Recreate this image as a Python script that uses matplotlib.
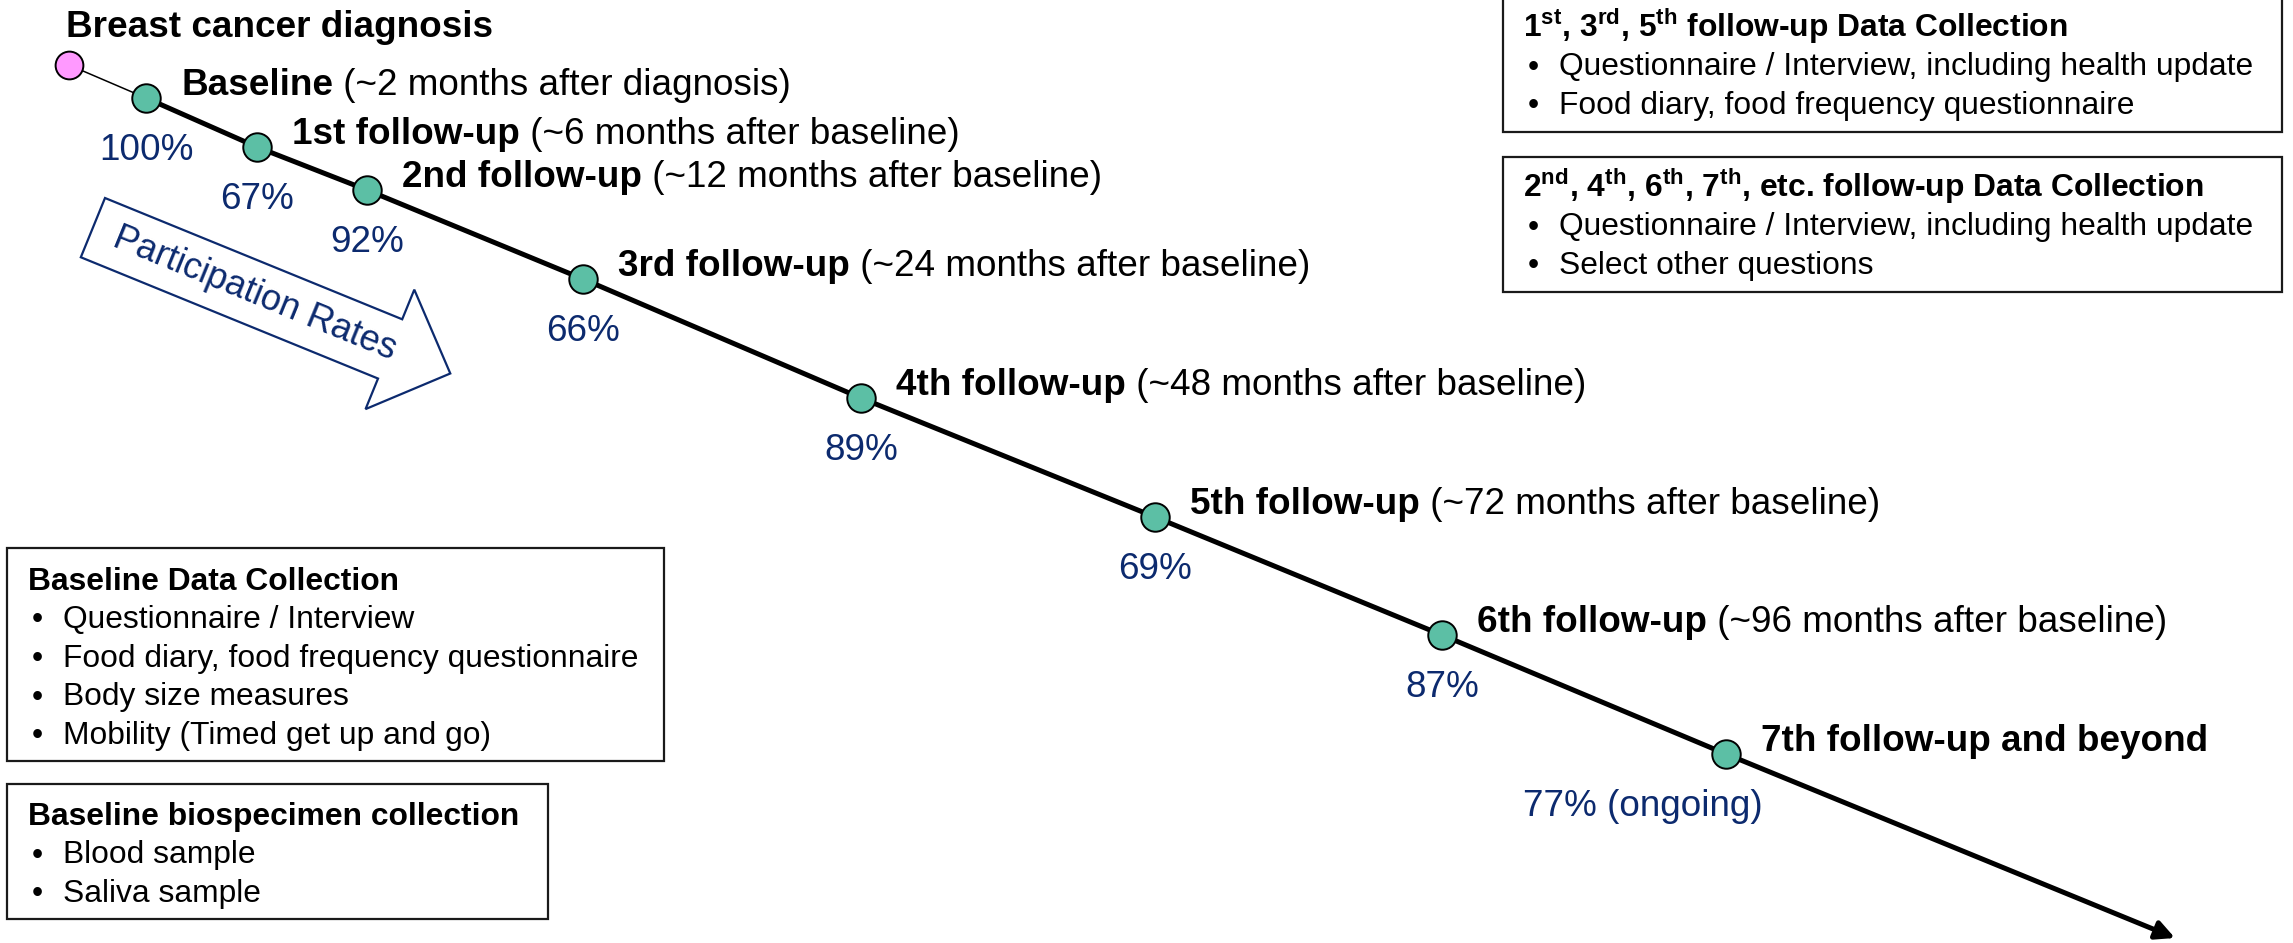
"""Breast cancer cohort timeline with participation rates."""
import matplotlib
matplotlib.use('Agg')
import matplotlib.pyplot as plt
import matplotlib.patches as mpatches
import numpy as np

plt.rcParams['font.family'] = ['Liberation Sans', 'DejaVu Sans']
plt.rcParams['mathtext.fontset'] = 'custom'
plt.rcParams['mathtext.rm'] = 'Liberation Sans'
plt.rcParams['mathtext.bf'] = 'Liberation Sans:bold'

# ---- data ----
stages = ['Baseline', '1st follow-up', '2nd follow-up', '3rd follow-up',
          '4th follow-up', '5th follow-up', '6th follow-up', '7th follow-up and beyond']
timing = [' (~2 months after diagnosis)', ' (~6 months after baseline)',
          ' (~12 months after baseline)', ' (~24 months after baseline)',
          ' (~48 months after baseline)', ' (~72 months after baseline)',
          ' (~96 months after baseline)', '']
rates = ['100%', '67%', '92%', '66%', '89%', '69%', '87%', '77% (ongoing)']
# node positions along the diagonal timeline (pixel space)
node_x = [146, 257, 367, 583, 861, 1155, 1442, 1726]
node_y = [98, 147, 190, 279, 398, 517, 635, 754]
diag_xy = (69, 65)
tip_xy = (2175, 938)

box_fu_odd = ['1$^{\\mathbf{st}}$, 3$^{\\mathbf{rd}}$, 5$^{\\mathbf{th}}$ follow-up Data Collection',
              'Questionnaire / Interview, including health update',
              'Food diary, food frequency questionnaire']
box_fu_even = ['2$^{\\mathbf{nd}}$, 4$^{\\mathbf{th}}$, 6$^{\\mathbf{th}}$, 7$^{\\mathbf{th}}$, etc. follow-up Data Collection',
               'Questionnaire / Interview, including health update',
               'Select other questions']
box_base = ['Baseline Data Collection', 'Questionnaire / Interview',
            'Food diary, food frequency questionnaire', 'Body size measures',
            'Mobility (Timed get up and go)']
box_bio = ['Baseline biospecimen collection', 'Blood sample', 'Saliva sample']

NAVY = '#0c2a6e'
TEAL = '#5cbfa5'
PINK = '#ff99ff'
FS_LABEL = 26.6
FS_BOX = 22.9

fig = plt.figure(figsize=(22.93, 9.43), dpi=100)
ax = fig.add_axes([0, 0, 1, 1])
ax.set_xlim(0, 2293)
ax.set_ylim(943, 0)
ax.axis('off')

# ---- timeline ----
ax.plot([diag_xy[0], node_x[0]], [diag_xy[1], node_y[0]], color='black', lw=1.1, zorder=1)
ax.plot(node_x, node_y, color='black', lw=3.6, solid_capstyle='butt', zorder=1)
ax.annotate('', xy=tip_xy, xytext=(node_x[-1], node_y[-1]),
            arrowprops=dict(arrowstyle='-|>', lw=3.6, color='black',
                            mutation_scale=28, shrinkA=0, shrinkB=0), zorder=1)
ax.plot(*diag_xy, 'o', ms=20, mfc=PINK, mec='black', mew=1.4, zorder=3)
ax.plot(node_x, node_y, 'o', ms=20.5, mfc=TEAL, mec='black', mew=1.4, ls='none', zorder=3)

ax.text(66, 37, 'Breast cancer diagnosis', fontsize=FS_LABEL, fontweight='bold', va='baseline')

for x, y, name, when, rate in zip(node_x, node_y, stages, timing, rates):
    t = ax.annotate(name, (x, y), xytext=(35, 3), textcoords='offset pixels',
                    fontsize=FS_LABEL, fontweight='bold', va='baseline', ha='left')
    if when:
        ax.annotate(when, xy=(1, 0), xycoords=t, fontsize=FS_LABEL,
                    va='bottom', ha='left')
    if rate == rates[-1]:
        ax.annotate(rate, (x, y), xytext=(37, -62), textcoords='offset pixels',
                    fontsize=FS_LABEL, color=NAVY, ha='right', va='baseline')
    else:
        ax.annotate(rate, (x, y), xytext=(0, -62), textcoords='offset pixels',
                    fontsize=FS_LABEL, color=NAVY, ha='center', va='baseline')

# ---- participation rates block arrow ----
a = np.radians(22.2)
u = np.array([np.cos(a), np.sin(a)])
v = np.array([-np.sin(a), np.cos(a)])
origin = np.array([105, 198])
local = [(0, 0), (321, 0), (321, -32), (386, 32), (321, 97), (321, 64), (0, 64)]
pts = [origin + p * u + q * v for p, q in local]
ax.add_patch(mpatches.Polygon(pts, closed=True, facecolor='white', edgecolor=NAVY, lw=1.6))
c = origin + 175 * u + 32 * v
ax.text(c[0], c[1], 'Participation Rates', fontsize=26, color=NAVY, rotation=-22.2,
        rotation_mode='anchor', ha='center', va='center')


def draw_box(x0, y0, x1, y1, lines, title_y, tx, bx, txx):
    ax.add_patch(mpatches.Rectangle((x0, y0), x1 - x0, y1 - y0, facecolor='white',
                                    edgecolor='#1a1a1a', lw=1.6))
    ax.text(tx, title_y, lines[0], fontsize=FS_BOX, fontweight='bold', va='baseline')
    for i, line in enumerate(lines[1:]):
        yy = title_y + 38.5 * (i + 1)
        ax.text(bx, yy, '•', fontsize=FS_BOX, va='baseline')
        ax.text(txx, yy, line, fontsize=FS_BOX, va='baseline')


draw_box(1503, -3, 2282, 132, box_fu_odd, 37, 1523, 1528, 1559)
draw_box(1503, 157, 2282, 292, box_fu_even, 197, 1523, 1528, 1559)
draw_box(7, 548, 664, 761, box_base, 590, 28, 32, 63)
draw_box(7, 784, 548, 919, box_bio, 825, 28, 32, 63)

fig.savefig('out.png', dpi=100)
